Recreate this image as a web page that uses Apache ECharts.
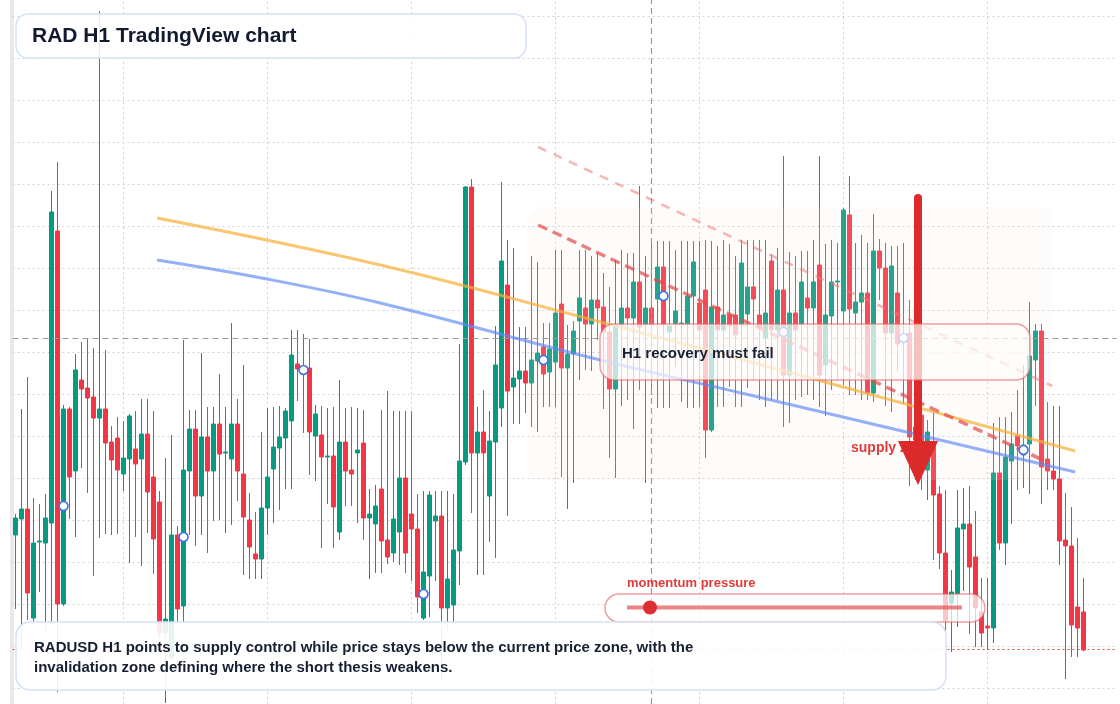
<!DOCTYPE html>
<html><head><meta charset="utf-8">
<script src="https://cdn.jsdelivr.net/npm/echarts@6/dist/echarts.min.js"></script>
<style>html,body{margin:0;padding:0;background:#fff}#c{width:1120px;height:704px}</style>
</head><body><div id="c"></div>
<script>
// ---- data (RADUSD H1) ----
const opens = [
.489,.505,.515,.406,.482,.481,.501,.793,.420,.615,
.553,.644,.636,.627,.606,.615,.582,.586,.550,.565,
.575,.565,.590,.547,.522,.391,.366,.489,.418,.553,
.595,.528,.587,.553,.600,.571,.565,.600,.550,.504,
.470,.465,.516,.555,.576,.586,.603,.660,.658,.656,
.588,.589,.567,.568,.492,.582,.554,.571,.581,.506,
.500,.535,.484,.471,.492,.546,.510,.495,.406,.448,
.503,.508,.416,.419,.473,.562,.837,.571,.592,.528,
.582,.616,.739,.637,.645,.653,.641,.663,.677,.652,
.662,.720,.656,.670,.703,.716,.700,.724,.717,.692,
.635,.699,.716,.706,.742,.699,.716,.725,.757,.692,
.700,.700,.700,.728,.721,.734,.594,.717,.694,.709,
.709,.700,.710,.737,.709,.686,.763,.694,.734,.649,
.711,.700,.726,.716,.759,.659,.708,.742,.713,.809,
.711,.722,.731,.631,.773,.756,.691,.731,.682,.691,
.584,.609,.554,.579,.530,.471,.421,.430,.495,.500,
.467,.412,.398,.396,.551,.481,.563,.588,.569,.580,
.664,.693,.565,.553,.545,.484,.478,.417,.412];
const closes = [
.506,.515,.431,.481,.483,.506,.812,.420,.615,.547,
.654,.635,.626,.606,.615,.581,.564,.554,.566,.608,
.560,.590,.532,.485,.391,.405,.489,.415,.554,.595,
.528,.587,.553,.600,.570,.572,.600,.553,.507,.477,
.465,.516,.547,.577,.587,.613,.669,.655,.652,.592,
.610,.567,.568,.517,.582,.553,.550,.574,.506,.510,
.518,.483,.467,.505,.546,.471,.495,.427,.452,.529,
.508,.416,.445,.474,.563,.837,.571,.592,.571,.583,
.659,.763,.633,.646,.653,.641,.664,.671,.650,.675,
.711,.656,.670,.693,.726,.700,.724,.716,.692,.635,
.699,.716,.706,.742,.697,.716,.699,.757,.700,.698,
.713,.701,.728,.762,.694,.594,.717,.694,.709,.698,
.689,.761,.737,.725,.696,.711,.694,.734,.649,.711,
.694,.742,.716,.742,.649,.709,.742,.743,.814,.715,
.722,.731,.631,.773,.756,.691,.758,.680,.688,.587,
.597,.554,.592,.529,.471,.403,.432,.496,.500,.457,
.416,.391,.396,.551,.481,.567,.580,.578,.579,.668,
.693,.557,.553,.545,.483,.478,.399,.396,.374];
const lows = [
.415,.374,.404,.399,.432,.394,.402,.332,.418,.505,
.487,.556,.531,.448,.486,.490,.489,.490,.533,.461,
.487,.458,.491,.450,.384,.321,.364,.402,.402,.489,
.478,.489,.471,.503,.504,.491,.499,.523,.449,.445,
.445,.445,.489,.501,.514,.535,.535,.623,.591,.549,
.543,.476,.520,.476,.484,.518,.518,.501,.484,.445,
.451,.451,.460,.462,.459,.451,.443,.411,.404,.407,
.443,.344,.394,.402,.439,.559,.511,.449,.449,.482,
.466,.597,.508,.600,.600,.611,.597,.592,.617,.617,
.617,.547,.515,.541,.644,.654,.653,.684,.615,.566,
.546,.618,.624,.595,.634,.541,.629,.616,.616,.616,
.657,.622,.616,.616,.617,.566,.592,.617,.617,.637,
.617,.617,.636,.644,.624,.617,.624,.624,.597,.601,
.624,.627,.629,.624,.617,.608,.634,.644,.639,.629,
.629,.624,.624,.622,.724,.618,.612,.652,.620,.538,
.544,.534,.524,.464,.455,.393,.372,.397,.433,.390,
.377,.377,.374,.381,.474,.459,.500,.534,.536,.530,
.618,.520,.534,.534,.459,.345,.367,.367,.373];
const highs = [
.510,.615,.647,.526,.520,.530,.833,.862,.619,.617,
.670,.682,.685,.676,1.013,.674,.598,.607,.603,.610,
.613,.625,.625,.613,.533,.566,.589,.498,.684,.614,
.614,.671,.617,.617,.650,.617,.701,.625,.659,.531,
.512,.592,.616,.617,.618,.616,.694,.694,.690,.685,
.619,.618,.616,.617,.644,.616,.617,.616,.614,.535,
.539,.614,.633,.613,.613,.613,.613,.530,.533,.533,
.533,.533,.533,.530,.680,.838,.845,.617,.634,.613,
.698,.842,.784,.776,.697,.697,.768,.762,.701,.701,
.774,.774,.699,.703,.774,.774,.768,.771,.751,.737,
.764,.774,.771,.771,.838,.768,.783,.783,.783,.783,
.774,.783,.783,.783,.783,.784,.783,.778,.784,.780,
.768,.784,.784,.784,.784,.784,.770,.776,.868,.772,
.768,.773,.773,.784,.868,.780,.784,.781,.816,.848,
.781,.789,.781,.810,.785,.781,.778,.778,.781,.724,
.614,.619,.604,.612,.538,.534,.454,.534,.536,.538,
.513,.446,.446,.601,.607,.607,.612,.634,.659,.722,
.700,.700,.622,.618,.618,.531,.517,.486,.446];

// swing markers [bar index, price]
const markerPoints = [[8,0.518],[28,0.487],[48,0.654],[68,0.430],[88,0.664],[108,0.728],[128,0.692],[148,0.686],[168,0.574]];
// drawn studies [bar position, price]
const orangeTrend = [[23.6,0.806],[60.8,0.759],[97.5,0.702],[133.7,0.644],[176.6,0.573]];
const blueTrend = [[23.6,0.764],[41.9,0.745],[60.8,0.721],[97.5,0.664],[122.4,0.629],[176.6,0.552]];
const channelUpper = [[87.1,0.877],[172.8,0.638]];
const channelLower = [[87.1,0.799],[171.6,0.563]];
const supplyZone = [[85.3,172.8,0.544,0.817]]; // [fromBar, toBar, low, high]
const crossPrice = 0.686, crossBar = 106, lastPrice = 0.375;
const timeGridBars = [18,42,66,90,114,138,162];
const priceGrid = [1.008,0.966,0.924,0.882,0.840,0.798,0.756,0.714,0.672,0.630,0.588,0.546,0.504,0.462,0.420,0.378,0.336];
const priceRange = {min:0.320, max:1.024};

// hourly time categories (179 bars + right padding)
const SLOTS = 184;
const categories = [];
for (let i = 0; i < SLOTS; i++) {
  const d = new Date(Date.UTC(2025, 2, 3, 0) + i * 3600e3);
  categories.push(String(d.getUTCMonth()+1).padStart(2,'0')+'-'+String(d.getUTCDate()).padStart(2,'0')+' '+String(d.getUTCHours()).padStart(2,'0')+':00');
}
const candles = opens.map((o, i) => [o, closes[i], lows[i], highs[i]]);

const UP = '#089981', DOWN = '#f23645';
const FONT = '"Liberation Sans", Arial, sans-serif';
const noMarker = {symbol:['none','none'], silent:true, precision:4, label:{show:false}, emphasis:{disabled:true}};
const GRID_STYLE = {color:'#d2d2d2', width:1, type:[2,3]};

const chart = echarts.init(document.getElementById('c'));
chart.setOption({
  animation:false,
  backgroundColor:'#ffffff',
  grid:{left:12.5, right:3.5, top:0, bottom:0, containLabel:false},
  xAxis:[
    {type:'category', data:categories, boundaryGap:true, show:true,
     axisLine:{show:false}, axisTick:{show:false}, axisLabel:{show:false}, splitLine:{show:false}},
    {type:'value', min:-0.5, max:SLOTS-0.5, show:false, splitLine:{show:false}}
  ],
  yAxis:{type:'value', min:priceRange.min, max:priceRange.max, scale:true,
     axisLine:{show:false}, axisTick:{show:false}, axisLabel:{show:false}, splitLine:{show:false}},
  series:[
    {type:'line', xAxisIndex:1, data:[[-3,0.5]], showSymbol:false, lineStyle:{opacity:0}, z:1, silent:true,
     markLine:Object.assign({}, noMarker, {z:1, lineStyle:GRID_STYLE,
       data: timeGridBars.map(b => ({xAxis:b})).concat(priceGrid.map(p => ({yAxis:p})))})},
    {type:'candlestick', name:'RADUSD', data:candles, barWidth:4, z:2,
     itemStyle:{color:UP, color0:DOWN, borderColor:UP, borderColor0:DOWN, borderWidth:1}},
    {type:'custom', xAxisIndex:1, data:supplyZone, z:3, silent:true, clip:false,
     renderItem:(params, api) => {
       const p1 = api.coord([api.value(0), api.value(3)]);
       const p2 = api.coord([api.value(1), api.value(2)]);
       return {type:'rect', shape:{x:p1[0], y:p1[1], width:p2[0]-p1[0], height:p2[1]-p1[1], r:13},
               style:{fill:'rgba(247,232,216,0.13)'}};
     }},
    {type:'line', xAxisIndex:1, data:[[-3,0.5]], showSymbol:false, lineStyle:{opacity:0}, z:4, silent:true,
     markLine:Object.assign({}, noMarker, {
       data:[
         {yAxis:crossPrice, lineStyle:{color:'#9a9a9a', width:1.2, type:[6,4]}},
         {xAxis:crossBar, lineStyle:{color:'#9a9a9a', width:1.2, type:[6,4]}},
         {yAxis:lastPrice, lineStyle:{color:'#e04a4a', width:1.2, type:[2,3]}}
       ]})},
    {type:'line', xAxisIndex:1, data:orangeTrend, smooth:0.4, showSymbol:false, z:5, silent:true,
     lineStyle:{color:'rgba(247,176,58,0.72)', width:3}},
    {type:'line', xAxisIndex:1, data:blueTrend, smooth:0.4, showSymbol:false, z:5, silent:true,
     lineStyle:{color:'rgba(98,138,245,0.68)', width:3}},
    {type:'line', xAxisIndex:1, data:channelUpper, showSymbol:false, z:5, silent:true,
     lineStyle:{color:'rgba(238,120,120,0.55)', width:2.5, type:[9,8]}},
    {type:'line', xAxisIndex:1, data:channelLower, showSymbol:false, z:5, silent:true,
     lineStyle:{color:'rgba(226,72,72,0.7)', width:3.5, type:[10,6]}},
    {type:'scatter', xAxisIndex:1, data:markerPoints, symbol:'circle', symbolSize:9, z:6, silent:true,
     itemStyle:{color:'#ffffff', borderColor:'#3f6fe8', borderWidth:1.6, opacity:1}}
  ],
  graphic:{elements:[
    {type:'rect', z:1, silent:true, shape:{x:10, y:0, width:4, height:704}, style:{fill:'#e9e9e9'}},
    {type:'text', z:40, silent:true, x:851, y:448,
     style:{text:'supply zone', fill:'#e03a3a', font:'bold 14px '+FONT, verticalAlign:'middle', textVerticalAlign:'middle'}},
    {type:'line', z:50, silent:true, shape:{x1:918, y1:198, x2:918, y2:446},
     style:{stroke:'#dc2a2a', lineWidth:8, lineCap:'round'}},
    {type:'polygon', z:50, silent:true, shape:{points:[[898,441],[938,441],[918,485]]}, style:{fill:'#dc2a2a'}},
    {type:'rect', z:60, silent:true, shape:{x:600, y:324, width:430, height:56, r:14},
     style:{fill:'rgba(255,252,252,0.72)', stroke:'rgba(230,96,96,0.6)', lineWidth:1.5}},
    {type:'text', z:61, silent:true, x:622, y:354,
     style:{text:'H1 recovery must fail', fill:'#172033', font:'bold 15px '+FONT, verticalAlign:'middle', textVerticalAlign:'middle'}},
    {type:'text', z:61, silent:true, x:627, y:583,
     style:{text:'momentum pressure', fill:'#e03a3a', font:'bold 13px '+FONT, verticalAlign:'middle', textVerticalAlign:'middle'}},
    {type:'rect', z:60, silent:true, shape:{x:605, y:594, width:380, height:28, r:14},
     style:{fill:'rgba(255,255,255,0.72)', stroke:'rgba(230,96,96,0.6)', lineWidth:1.5}},
    {type:'line', z:61, silent:true, shape:{x1:627, y1:607.5, x2:962, y2:607.5},
     style:{stroke:'rgba(226,80,80,0.7)', lineWidth:4}},
    {type:'circle', z:62, silent:true, shape:{cx:650, cy:607.5, r:7}, style:{fill:'#dc2f2f'}},
    {type:'rect', z:70, silent:true, shape:{x:16, y:622, width:930, height:68, r:14},
     style:{fill:'rgba(255,255,255,0.9)', stroke:'#d5e2f6', lineWidth:1.5}},
    {type:'text', z:71, silent:true, x:34, y:648,
     style:{text:'RADUSD H1 points to supply control while price stays below the current price zone, with the', fill:'#172033', font:'bold 15px '+FONT, verticalAlign:'middle', textVerticalAlign:'middle'}},
    {type:'text', z:71, silent:true, x:34, y:668,
     style:{text:'invalidation zone defining where the short thesis weakens.', fill:'#172033', font:'bold 15px '+FONT, verticalAlign:'middle', textVerticalAlign:'middle'}},
    {type:'rect', z:70, silent:true, shape:{x:16, y:14, width:510, height:44, r:12},
     style:{fill:'rgba(255,255,255,0.88)', stroke:'#d5e2f6', lineWidth:1.5}},
    {type:'text', z:71, silent:true, x:32, y:36,
     style:{text:'RAD H1 TradingView chart', fill:'#111a2e', font:'bold 21px '+FONT, verticalAlign:'middle', textVerticalAlign:'middle'}}
  ]}
});
</script></body></html>
